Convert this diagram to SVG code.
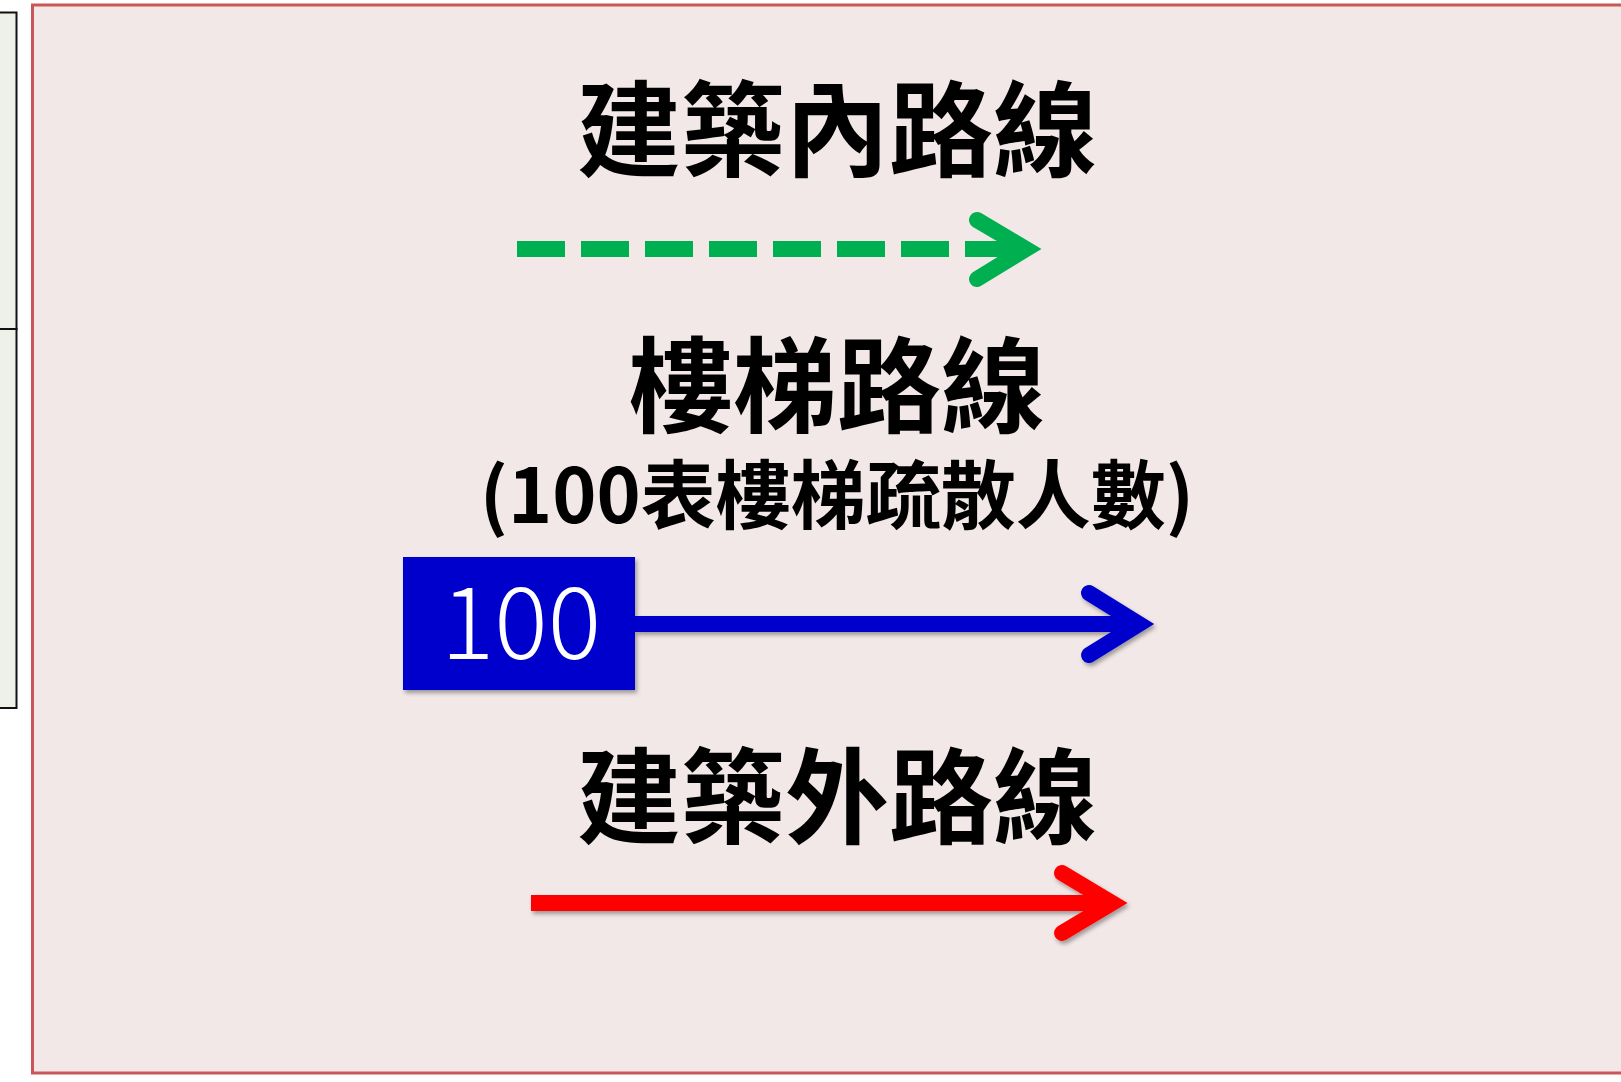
<svg xmlns="http://www.w3.org/2000/svg" width="1621" height="1082" viewBox="0 0 1621 1082">
<style>
.title{font-family:"Noto Sans CJK TC","Noto Sans CJK SC",sans-serif;font-weight:bold;font-size:104px;fill:#000;text-anchor:middle}
.sub{font-family:"Noto Sans CJK TC","Noto Sans CJK SC",sans-serif;font-weight:bold;font-size:75px;fill:#000;text-anchor:middle}
.num{font-family:"Noto Sans CJK TC","Noto Sans CJK SC",sans-serif;font-weight:300;font-size:100px;fill:#fff;text-anchor:middle}
.arm{fill:none;stroke-width:16;stroke-linecap:round;stroke-linejoin:miter;stroke-miterlimit:10}
</style>
<defs>
<filter id="sh" x="-10%" y="-50%" width="120%" height="200%">
<feDropShadow dx="2" dy="3" stdDeviation="2" flood-color="#000" flood-opacity="0.35"/>
</filter>
</defs>
<rect width="1621" height="1082" fill="#ffffff"/>
<g id="left-panel">
<rect x="-10" y="12.5" width="26.5" height="316.5" fill="#EEF1E8" stroke="#111" stroke-width="2"/>
<rect x="-10" y="329" width="26.5" height="379" fill="#EEF1E8" stroke="#111" stroke-width="2"/>
</g>
<g id="legend-panel">
<rect x="32.5" y="5" width="1600" height="1068" fill="#F2E8E7" stroke="#C95757" stroke-width="3"/>
</g>
<g id="label-inner">
<text class="title" x="837" y="169">建築內路線</text>
</g>
<g id="label-stair">
<text class="title" x="837" y="425">樓梯路線</text>
<text class="sub" x="837" y="523">(100表樓梯疏散人數)</text>
</g>
<g id="stair-box" filter="url(#sh)">
<rect x="403" y="557" width="232" height="133" fill="#0000CC"/>
<text class="num" x="521" y="659">100</text>
</g>
<g id="label-outer">
<text class="title" x="837" y="836">建築外路線</text>
</g>
<g id="connectors">
<g id="inner-route">
<line x1="517" y1="249" x2="1020" y2="249" stroke="#00B050" stroke-width="16" stroke-dasharray="48 16"/>
<polyline class="arm" points="977,220 1026,249 977,279" stroke="#00B050"/>
</g>
<g id="stair-route" filter="url(#sh)">
<line x1="635" y1="624" x2="1134" y2="624" stroke="#0000CC" stroke-width="16"/>
<polyline class="arm" points="1089,593 1139,624 1089,655" stroke="#0000CC"/>
</g>
<g id="outer-route" filter="url(#sh)">
<line x1="531" y1="903" x2="1107" y2="903" stroke="#FF0000" stroke-width="16"/>
<polyline class="arm" points="1062,873 1112,903 1062,933" stroke="#FF0000"/>
</g>
</g>
</svg>
